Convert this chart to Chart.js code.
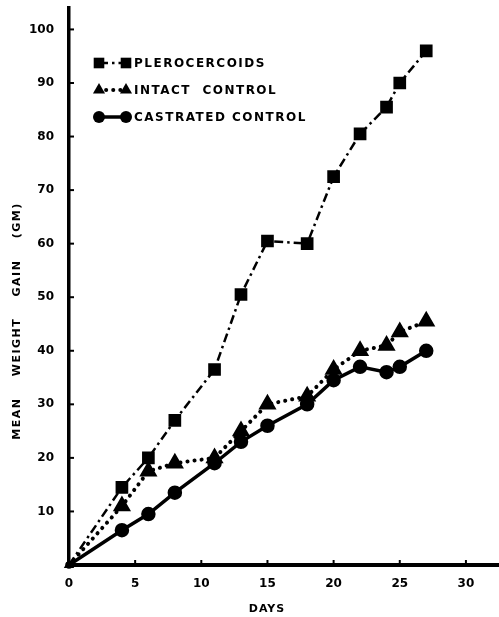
<!DOCTYPE html>
<html>
<head>
<meta charset="utf-8">
<script src="https://cdn.jsdelivr.net/npm/chart.js@4/dist/chart.umd.min.js"></script>
<style>html,body{margin:0;padding:0;background:#fff;}</style>
</head>
<body>
<div style="width:499px;height:617px;position:relative"><canvas id="chart"></canvas></div>
<script>
// values
var days = [0, 4, 6, 8, 11, 13, 15, 18, 20, 22, 24, 25, 27];
var plerocercoids = [0, 14.5, 20, 27, 36.5, 50.5, 60.5, 60, 72.5, 80.5, 85.5, 90, 96];
var intactControl = [0, 11, 17.5, 19, 20, 25, 30, 31.5, 36.5, 40, 41, 43.5, 45.5];
var castratedControl = [0, 6.5, 9.5, 13.5, 19, 23, 26, 30, 34.5, 37, 36, 37, 40];
var seriesNames = ['PLEROCERCOIDS', 'INTACT  CONTROL', 'CASTRATED CONTROL'];
var xTickValues = [0, 5, 10, 15, 20, 25, 30];
var yTickValues = [10, 20, 30, 40, 50, 60, 70, 80, 90, 100];

var FONT = "'DejaVu Sans', sans-serif";

function pts(vals) {
  return days.map(function (d, i) { return {x: d, y: vals[i]}; });
}
function radii(r) {
  return days.map(function (d) { return d === 0 ? 2 : r; });
}

function marker(ctx, style, x, y, r) {
  ctx.beginPath();
  if (style === 'rect') {
    var s = r * Math.SQRT1_2;
    ctx.rect(x - s, y - s, 2 * s, 2 * s);
  } else if (style === 'triangle') {
    ctx.moveTo(x, y - r);
    ctx.lineTo(x + r * 0.866, y + r * 0.5);
    ctx.lineTo(x - r * 0.866, y + r * 0.5);
    ctx.closePath();
  } else {
    ctx.arc(x, y, r, 0, Math.PI * 2);
  }
  ctx.fill();
}

var decor = {
  id: 'decor',
  afterDraw: function (chart) {
    var ctx = chart.ctx, xs = chart.scales.x, ys = chart.scales.y;
    ctx.save();
    ctx.strokeStyle = '#000';
    ctx.fillStyle = '#000';
    ctx.lineWidth = 2;
    // inward tick marks
    yTickValues.forEach(function (v) {
      var p = ys.getPixelForValue(v);
      ctx.beginPath(); ctx.moveTo(xs.left, p); ctx.lineTo(xs.left + 5, p); ctx.stroke();
    });
    xTickValues.forEach(function (v) {
      if (v === 0) return;
      var p = xs.getPixelForValue(v);
      ctx.beginPath(); ctx.moveTo(p, ys.bottom); ctx.lineTo(p, ys.bottom - 5); ctx.stroke();
    });
    // axis titles
    ctx.font = 'bold 11px ' + FONT;
    ctx.letterSpacing = '1px';
    ctx.textAlign = 'center';
    ctx.textBaseline = 'middle';
    ctx.fillText('DAYS', 267, 609);
    ctx.save();
    ctx.translate(17, 321);
    ctx.rotate(-Math.PI / 2);
    ctx.letterSpacing = '1.5px';
    ctx.fillText('MEAN    WEIGHT    GAIN    (GM)', 0, 0);
    ctx.restore();
    // legend
    ctx.font = 'bold 12px ' + FONT;
    ctx.letterSpacing = '1.5px';
    ctx.textAlign = 'left';
    var rows = [63, 90, 117];
    chart.data.datasets.forEach(function (ds, i) {
      var y = rows[i];
      ctx.save();
      ctx.lineWidth = ds.borderWidth;
      ctx.lineCap = ds.borderCapStyle || 'butt';
      ctx.setLineDash(ds.borderDash || []);
      ctx.beginPath(); ctx.moveTo(99, y); ctx.lineTo(126, y); ctx.stroke();
      ctx.restore();
      marker(ctx, ds.pointStyle, 99, y, ds.legendR);
      marker(ctx, ds.pointStyle, 126, y, ds.legendR);
      ctx.fillText(seriesNames[i], 134, y + 1);
    });
    ctx.restore();
  }
};

new Chart(document.getElementById('chart'), {
  type: 'line',
  data: {
    datasets: [{
      label: seriesNames[0],
      data: pts(plerocercoids),
      borderColor: '#000', backgroundColor: '#000',
      borderWidth: 2.5, borderDash: [9, 4, 2.5, 4],
      pointStyle: 'rect', pointRadius: radii(7.2), legendR: 7.5
    }, {
      label: seriesNames[1],
      data: pts(intactControl),
      borderColor: '#000', backgroundColor: '#000',
      borderWidth: 4, borderDash: [0.1, 7], borderCapStyle: 'round',
      pointStyle: 'triangle', pointRadius: radii(6.5), legendR: 7
    }, {
      label: seriesNames[2],
      data: pts(castratedControl),
      borderColor: '#000', backgroundColor: '#000',
      borderWidth: 3.5,
      pointStyle: 'circle', pointRadius: radii(5.5), legendR: 6
    }]
  },
  options: {
    responsive: true,
    maintainAspectRatio: false,
    animation: false,
    clip: false,
    layout: {autoPadding: false, padding: {top: 8, right: 0, left: 0, bottom: 0}},
    plugins: {legend: {display: false}, tooltip: {enabled: false}},
    elements: {line: {tension: 0}, point: {borderWidth: 0, hoverRadius: 0}},
    scales: {
      x: {
        type: 'linear', min: 0, max: 32.5,
        afterBuildTicks: function (s) { s.ticks = xTickValues.map(function (v) { return {value: v}; }); },
        afterFit: function (s) { s.height = 52; s.paddingLeft = 0; s.paddingRight = 0; },
        grid: {display: false, drawTicks: false},
        border: {display: true, color: '#000', width: 4},
        ticks: {color: '#000', padding: 12, maxRotation: 0, font: {family: FONT, size: 12, weight: 'bold'}}
      },
      y: {
        type: 'linear', min: 0, max: 104,
        afterBuildTicks: function (s) { s.ticks = yTickValues.map(function (v) { return {value: v}; }); },
        afterFit: function (s) { s.width = 69; s.paddingTop = 0; s.paddingBottom = 0; },
        grid: {display: false, drawTicks: false},
        border: {display: true, color: '#000', width: 3.5},
        ticks: {color: '#000', padding: 15, font: {family: FONT, size: 12, weight: 'bold'}}
      }
    }
  },
  plugins: [decor]
});
</script>
</body>
</html>
